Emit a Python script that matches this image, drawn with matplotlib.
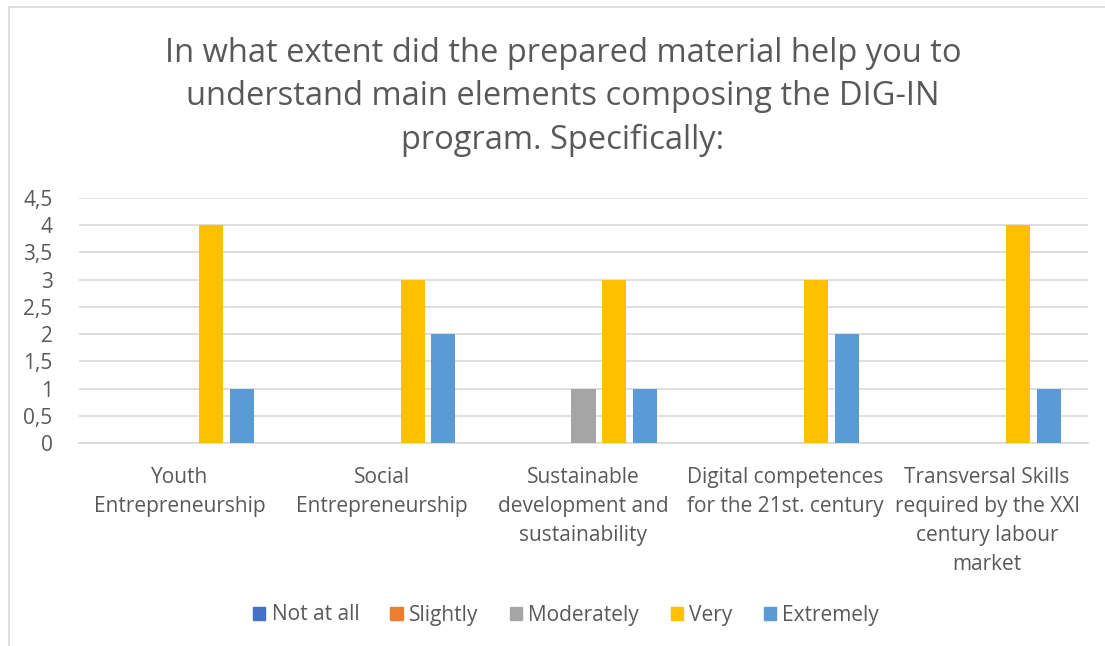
import matplotlib
matplotlib.use("Agg")
import matplotlib.pyplot as plt
import numpy as np
from matplotlib.patches import Rectangle
from matplotlib.lines import Line2D

categories = ["Youth\nEntrepreneurship", "Social\nEntrepreneurship",
              "Sustainable\ndevelopment and\nsustainability",
              "Digital competences\nfor the 21st. century",
              "Transversal Skills\nrequired by the XXI\ncentury labour\nmarket"]
series_names = ["Not at all", "Slightly", "Moderately", "Very", "Extremely"]
not_at_all = [0, 0, 0, 0, 0]
slightly = [0, 0, 0, 0, 0]
moderately = [0, 0, 1, 0, 0]
very = [4, 3, 3, 3, 4]
extremely = [1, 2, 1, 2, 1]
yticks = [0, 0.5, 1, 1.5, 2, 2.5, 3, 3.5, 4, 4.5]
ytick_labels = ["0", "0,5", "1", "1,5", "2", "2,5", "3", "3,5", "4", "4,5"]
title = ("In what extent did the prepared material help you to\n"
         "understand main elements composing the DIG-IN\n"
         "program. Specifically:")

colors = ["#4472C4", "#ED7D31", "#A5A5A5", "#FFC000", "#5B9BD5"]
text_color = "#595959"
font = ["Open Sans", "DejaVu Sans"]
plt.rcParams['font.family'] = font

W, H = 1105, 646
fig = plt.figure(figsize=(W / 100, H / 100), dpi=100)

# outer chart border (partially visible)
fig.add_artist(Line2D([9 / W, 9 / W], [0, 1 - 7 / H], transform=fig.transFigure,
                      color="#D9D9D9", lw=1.2))
fig.add_artist(Line2D([9 / W, 1], [1 - 7 / H, 1 - 7 / H], transform=fig.transFigure,
                      color="#D9D9D9", lw=1.2))

left, right = 79, 1088
top, bottom = 198, 443
ax = fig.add_axes([left / W, 1 - bottom / H, (right - left) / W, (bottom - top) / H])

all_series = [not_at_all, slightly, moderately, very, extremely]
x = np.arange(len(categories))
spacing = 0.153
width = 0.119
for i, (vals, c, name) in enumerate(zip(all_series, colors, series_names)):
    ax.bar(x + (i - 2) * spacing, vals, width=width, color=c, label=name, zorder=3)

fs = 15
ax.set_xlim(-0.5, len(categories) - 0.5)
ax.set_ylim(0, 4.5)
ax.set_yticks(yticks)
ax.set_yticklabels(ytick_labels, fontsize=fs, color=text_color)
ax.yaxis.grid(True, color="#D9D9D9", lw=1.2, zorder=0)
ax.set_xticks(x)
ax.set_xticklabels(categories, fontsize=fs, color=text_color, linespacing=1.5, va="top")
ax.tick_params(axis="both", length=0)
ax.tick_params(axis="x", pad=17)
ax.tick_params(axis="y", pad=19)
for s in ["top", "right", "left"]:
    ax.spines[s].set_visible(False)
ax.spines["bottom"].set_color("#D9D9D9")
ax.spines["bottom"].set_linewidth(1.2)

fig.text(563 / W, 1 - 97 / H, title, ha="center", va="center", fontsize=23.5,
         color=text_color, linespacing=1.43)

handles = [Rectangle((0, 0), 1, 1, color=c) for c in colors]
fig.legend(handles, series_names, loc="center", bbox_to_anchor=(566 / W, 1 - 615 / H),
           ncol=5, frameon=False, fontsize=fs, labelcolor=text_color,
           handlelength=0.6, handleheight=0.6, handletextpad=0.3, columnspacing=1.5)

fig.savefig("out.png", dpi=100, facecolor="white")
